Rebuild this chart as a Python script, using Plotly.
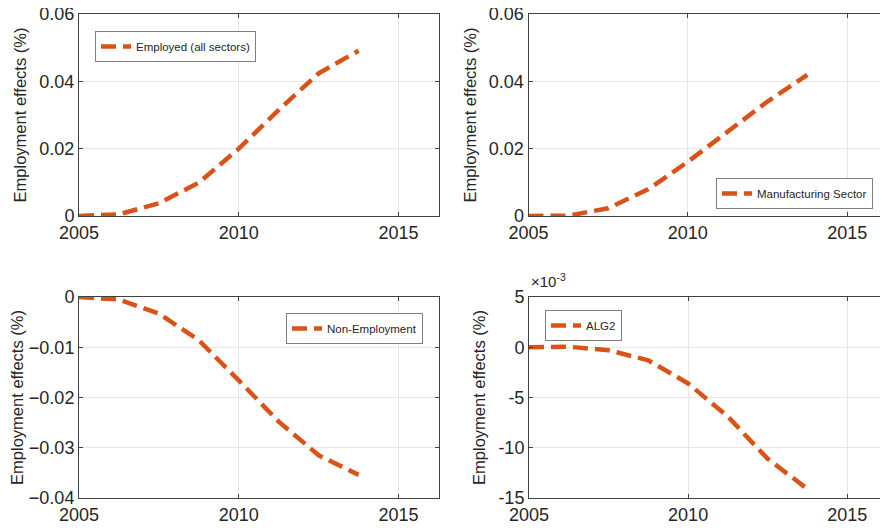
import plotly.graph_objects as go

years = [2005, 2006.25, 2007.5, 2008.75, 2010, 2011.25, 2012.5, 2013.75]
employed = [0.0, 0.0005, 0.0038, 0.0099, 0.0200, 0.0315, 0.0424, 0.0491]
manufacturing = [0.0, 0.0001, 0.0023, 0.0079, 0.0161, 0.0251, 0.0340, 0.0419]
non_employment = [0.0, -0.0005, -0.0033, -0.0086, -0.0166, -0.0248, -0.0315, -0.0354]
alg2 = [0.0, 0.00005, -0.0003, -0.0013, -0.0036, -0.0069, -0.0111, -0.0141]

names = ["Employed (all sectors)", "Manufacturing Sector", "Non-Employment", "ALG2"]
series = [employed, manufacturing, non_employment, alg2]

x_ticks = [2005, 2010, 2015]
y_ticks_top = [0, 0.02, 0.04, 0.06]
y_ticks_bl = [-0.04, -0.03, -0.02, -0.01, 0]
y_ticks_br = [-0.015, -0.01, -0.005, 0, 0.005]
y_ticktext_br = ["-15", "-10", "-5", "0", "5"]

COLOR = "#D95319"
OFF = 8  # page body margin offset
W, H = 888 - OFF, 530 - OFF
FONT = "Liberation Sans, Arial, sans-serif"
TXT = "#262626"


def px(x):
    return (x - OFF) / W


def py(y):
    return 1 - (y - OFF) / H


fig = go.Figure()

# pixel boxes of plot areas in window coords: (x0, x1, ytop, ybottom)
boxes = [(79, 438.5, 14, 216), (528.5, 887, 14, 216), (79, 438.5, 297, 498), (529, 887, 297, 498)]
legend_ids = ["legend", "legend2", "legend3", "legend4"]
# legend boxes (left/right, top) in window px, anchor
legend_pos = [(95, 31, "left"), (873, 178, "right"), (423, 313, "right"), (545, 310, "left")]

for i, (name, ys) in enumerate(zip(names, series)):
    suffix = "" if i == 0 else str(i + 1)
    fig.add_trace(go.Scatter(
        x=years, y=ys, mode="lines", name=name, showlegend=True,
        line=dict(color=COLOR, width=4.5, dash="15px,7px"),
        xaxis="x" + suffix, yaxis="y" + suffix, legend=legend_ids[i],
    ))

yranges = [[0, 0.06], [0, 0.06], [-0.04, 0], [-0.015, 0.005]]
yticks = [y_ticks_top, y_ticks_top, y_ticks_bl, y_ticks_br]

layout = dict(
    width=W, height=H, margin=dict(l=0, r=0, t=0, b=0, autoexpand=False),
    paper_bgcolor="white", plot_bgcolor="white",
    font=dict(family=FONT, color=TXT),
    showlegend=True,
    annotations=[],
)

axis_common = dict(
    showline=True, linecolor="#404040", linewidth=1, mirror="ticks",
    ticks="inside", ticklen=4, tickcolor="#404040",
    showgrid=True, gridcolor="#E6E6E6", gridwidth=1, zeroline=False,
    tickfont=dict(size=18, color=TXT, family=FONT),
    automargin=False, ticklabeloverflow="allow",
)

for i, (x0, x1, yt, yb) in enumerate(boxes):
    suffix = "" if i == 0 else str(i + 1)
    xd = [px(x0), min(px(x1), 1.0)]
    yd = [py(yb), py(yt)]
    xa = dict(axis_common, domain=xd, range=[2005, 2016.25], tickvals=x_ticks,
              anchor="y" + suffix)
    ya = dict(axis_common, domain=yd, range=yranges[i], tickvals=yticks[i],
              anchor="x" + suffix,
              title=dict(text="Employment effects (%)", font=dict(size=16.5, color=TXT, family=FONT), standoff=8))
    if i == 3:
        ya["ticktext"] = y_ticktext_br
    layout["xaxis" + suffix] = xa
    layout["yaxis" + suffix] = ya

    lx, ly, anchor = legend_pos[i]
    layout[legend_ids[i]] = dict(
        x=px(lx), y=py(ly), xref="paper", yref="paper",
        xanchor=anchor, yanchor="top",
        bgcolor="white", bordercolor="#7F7F7F", borderwidth=1,
        font=dict(size=11.5, color=TXT, family=FONT),
        itemwidth=30, tracegroupgap=0,
    )

layout["annotations"].append(dict(
    text="×10<sup>-3</sup>", x=px(529), y=py(292), xref="paper", yref="paper",
    xanchor="left", yanchor="bottom", showarrow=False,
    font=dict(size=15, color=TXT, family=FONT),
))

fig.update_layout(**layout)
fig.write_html("out.html")
